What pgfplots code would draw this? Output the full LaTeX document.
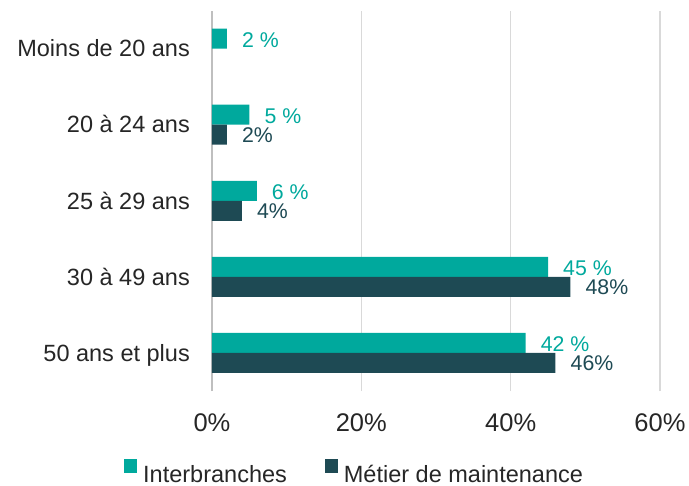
\documentclass[border=0pt]{standalone}
\usepackage{pgfplots}
\pgfplotsset{compat=1.18}
\usepackage{fontspec}
\setmainfont{Liberation Sans}
\definecolor{teal1}{HTML}{00A99D}
\definecolor{dark1}{HTML}{1E4A54}
\definecolor{gridgray}{HTML}{D9D9D9}
\definecolor{axgray}{HTML}{BFBFBF}
\definecolor{txt}{HTML}{262626}
\begin{document}
\begin{tikzpicture}
\path[use as bounding box] (-212bp,-95bp) rectangle (477bp,391bp);
\begin{axis}[
  scale only axis, width=448bp, height=380.5bp,
  at={(0,0)}, anchor=south west,
  xmin=0, xmax=60, ymin=-0.5, ymax=4.5,
  xbar, bar width=20bp,
  xtick={0,20,40,60},
  xticklabel={\pgfmathprintnumber{\tick}\%},
  ytick={0,1,2,3,4},
  yticklabels={50 ans et plus, 30 à 49 ans, 25 à 29 ans, 20 à 24 ans, Moins de 20 ans\hspace{7bp}},
  major tick length=0pt,
  /pgf/number format/assume math mode=true,
  xmajorgrids, major grid style={draw=gridgray, line width=1.3bp},
  axis lines*=left, axis line style={-},
  x axis line style={draw=none},
  y axis line style={draw=axgray, line width=2bp},
  xticklabel style={font=\fontsize{25.5bp}{30bp}\selectfont, text=txt, inner sep=0pt, anchor=north, yshift=-22bp},
  yticklabel style={font=\fontsize{23.5bp}{28bp}\selectfont, text=txt, inner sep=0pt, anchor=base east, xshift=-22bp, yshift=-8.3bp},
  point meta=x,
  clip=false,
  legend columns=2,
  legend style={draw=none, fill=none, inner sep=0pt, at={(-0.1964,-0.2444)}, anchor=south west,
    font=\fontsize{23.5bp}{28bp}\selectfont, text=txt,
    nodes={inner sep=0pt},
    /tikz/every even column/.append style={column sep=38bp}},
  legend image code/.code={\fill[#1, draw=none] (0bp,1bp) rectangle (13bp,15bp); \path (19bp,0bp);},
]
\addplot[fill=teal1, draw=none, bar shift=10bp,
  nodes near coords={\pgfmathprintnumber{\pgfplotspointmeta}~\%},
  nodes near coords style={anchor=base west, inner sep=0pt, xshift=15bp, yshift=-9bp, text=teal1, font=\fontsize{21.3bp}{25bp}\selectfont}]
  coordinates {(42,0) (45,1) (6,2) (5,3) (2,4)};
\addlegendentry{Interbranches}
\addplot[fill=dark1, draw=none, bar shift=-10bp,
  nodes near coords={\pgfmathprintnumber{\pgfplotspointmeta}\%},
  nodes near coords style={anchor=base west, inner sep=0pt, xshift=15bp, yshift=-8bp, text=dark1, font=\fontsize{21.3bp}{25bp}\selectfont}]
  coordinates {(46,0) (48,1) (4,2) (2,3)};
\addlegendentry{Métier de maintenance}
\end{axis}
\end{tikzpicture}
\end{document}
